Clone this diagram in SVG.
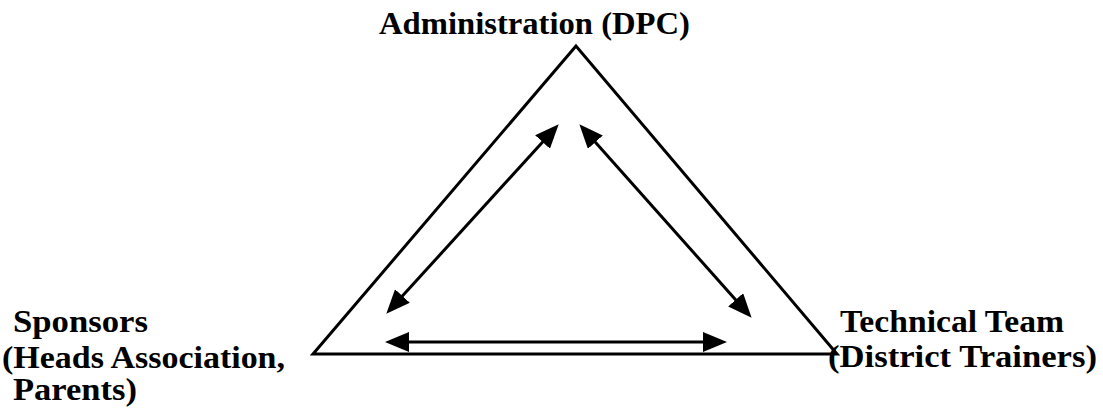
<svg xmlns="http://www.w3.org/2000/svg" width="1103" height="408" viewBox="0 0 1103 408">
<style>
.lbl{font-family:"Liberation Serif","Times New Roman",serif;font-weight:bold;font-size:31px;fill:#000}
.edge{stroke:#000;stroke-width:3;fill:none}
</style>
<defs>
<marker id="ah" markerUnits="userSpaceOnUse" markerWidth="24" markerHeight="20" refX="13" refY="10" orient="auto-start-reverse" viewBox="0 0 24 20">
<path d="M0,0 L24,10 L0,20 z" fill="#000"/>
</marker>
</defs>
<rect width="1103" height="408" fill="#fff"/>
<g id="triangle">
<polygon points="576,46 313,354 837,354" fill="none" stroke="#000" stroke-width="3" stroke-linejoin="miter"/>
</g>
<g id="admin">
<text class="lbl" x="379" y="34" textLength="311" lengthAdjust="spacingAndGlyphs">Administration (DPC)</text>
</g>
<g id="sponsors">
<text class="lbl" x="13" y="332" textLength="135" lengthAdjust="spacingAndGlyphs">Sponsors</text>
<text class="lbl" x="2" y="368" textLength="283" lengthAdjust="spacingAndGlyphs">(Heads Association,</text>
<text class="lbl" x="13" y="400" textLength="124" lengthAdjust="spacingAndGlyphs">Parents)</text>
</g>
<g id="technical">
<text class="lbl" x="840" y="332" textLength="224" lengthAdjust="spacingAndGlyphs">Technical Team</text>
<text class="lbl" x="828" y="367" textLength="269" lengthAdjust="spacingAndGlyphs">(District Trainers)</text>
</g>
<g id="connectors">
<line class="edge" x1="393.7" y1="305.6" x2="551.3" y2="132.4" marker-start="url(#ah)" marker-end="url(#ah)"/>
<line class="edge" x1="586.7" y1="132.5" x2="744.3" y2="309.5" marker-start="url(#ah)" marker-end="url(#ah)"/>
<line class="edge" x1="396" y1="342" x2="716" y2="342" marker-start="url(#ah)" marker-end="url(#ah)"/>
</g>
</svg>
